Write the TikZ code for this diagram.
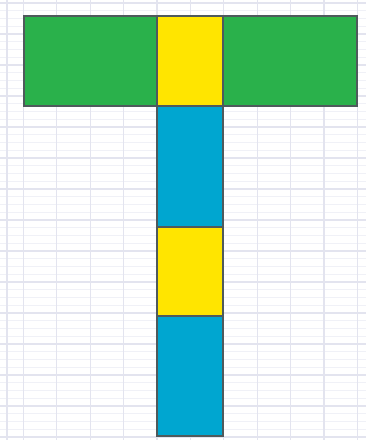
\documentclass[tikz,border=0pt]{standalone}
\begin{document}
\begin{tikzpicture}[x=1pt,y=-1pt,
  minorline/.style={draw=gridminor,line width=0.8pt},
  majorline/.style={draw=gridmajor,line width=1.2pt},
  cell/.style={draw=cellborder,line width=1.8pt},
  greencell/.style={cell,fill=tgreen},
  yellowcell/.style={cell,fill=tyellow},
  bluecell/.style={cell,fill=tblue}]
\definecolor{gridminor}{HTML}{F0F1F7}
\definecolor{gridmajor}{HTML}{E3E4EF}
\definecolor{cellborder}{HTML}{4F5A5C}
\definecolor{tgreen}{HTML}{2AB14B}
\definecolor{tyellow}{HTML}{FFE500}
\definecolor{tblue}{HTML}{00A6D0}
\useasboundingbox (0,0) rectangle (366,440);
\fill[white] (0,0) rectangle (366,440);
% grid
\foreach \k in {0,...,56} {
  \draw[minorline] (0,{3+7.75*\k}) -- (366,{3+7.75*\k});
}
\foreach \k in {0,...,14} {
  \draw[majorline] (0,{3+31*\k}) -- (366,{3+31*\k});
}
\draw[majorline] (7,0) -- (7,440);
\foreach \k in {0,...,10} {
  \draw[majorline] ({23.4+33.4*\k},0) -- ({23.4+33.4*\k},440);
}
% T shape
\draw[greencell] (24,16) rectangle (157,106);
\draw[greencell] (223,16) rectangle (357,106);
\draw[yellowcell] (157,16) rectangle (223,106);
\draw[bluecell] (157,106) rectangle (223,227);
\draw[yellowcell] (157,227) rectangle (223,316);
\draw[bluecell] (157,316) rectangle (223,436);
\end{tikzpicture}
\end{document}
